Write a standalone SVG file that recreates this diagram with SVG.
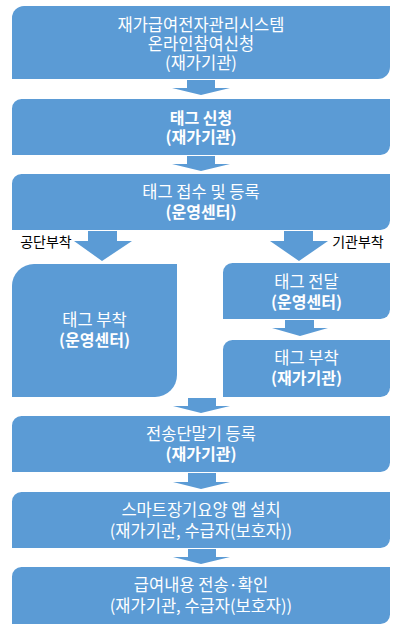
<svg xmlns="http://www.w3.org/2000/svg" width="411" height="636" viewBox="0 0 411 636">
<style>
.box{fill:#5B9BD5}
.arr{fill:#5B9BD5}
text{font-family:"Noto Sans CJK KR","Noto Sans",sans-serif;text-anchor:middle}
.t{fill:#fff;font-size:16.5px}
.b{font-weight:bold;font-size:16px}
.lbl{fill:#000;font-size:14px}
</style>
<rect width="411" height="636" fill="#fff"/>
<g id="connectors">
<polygon class="arr" points="187,80 215,80 215,88 230,88 201,95 172,88 187,88"/>
<polygon class="arr" points="187,156 215,156 215,164 230,164 201,171 172,164 187,164"/>
<polygon class="arr" points="88,231 117,231 117,241 132,241 102,261 74,241 88,241"/>
<polygon class="arr" points="284,231 313,231 313,241 328,241 299,261 270,241 284,241"/>
<polygon class="arr" points="285,320 314,320 314,328 328,328 300,336 272,328 285,328"/>
<polygon class="arr" points="188,398 216,398 216,406 230,406 201,413 173,406 188,406"/>
<polygon class="arr" points="188,473 216,473 216,482 230,482 201,489 173,482 188,482"/>
<polygon class="arr" points="188,549 216,549 216,557 230,557 201,564 173,557 188,557"/>
<text class="lbl" x="46" y="247">공단부착</text>
<text class="lbl" x="358" y="247">기관부착</text>
</g>
<g id="n1">
<path class="box" d="M24,6 H390 V67 A12,12 0 0 1 378,79 H12 V18 A12,12 0 0 1 24,6 Z"/>
<text class="t"><tspan x="201" y="30.5">재가급여전자관리시스템</tspan><tspan x="201" y="49.5">온라인참여신청</tspan><tspan x="201" y="68.5">(재가기관)</tspan></text>
</g>
<g id="n2">
<path class="box" d="M21.5,99 H390 V145.5 A9.5,9.5 0 0 1 380.5,155 H12 V108.5 A9.5,9.5 0 0 1 21.5,99 Z"/>
<text class="t b"><tspan x="201" y="124">태그 신청</tspan><tspan x="201" y="143">(재가기관)</tspan></text>
</g>
<g id="n3">
<path class="box" d="M21.5,174 H390 V220.5 A9.5,9.5 0 0 1 380.5,230 H12 V183.5 A9.5,9.5 0 0 1 21.5,174 Z"/>
<text class="t"><tspan x="201" y="198">태그 접수 및 등록</tspan><tspan class="b" x="201" y="218">(운영센터)</tspan></text>
</g>
<g id="n4">
<path class="box" d="M34,264 H177 V375 A22,22 0 0 1 155,397 H12 V286 A22,22 0 0 1 34,264 Z"/>
<text class="t"><tspan x="94.5" y="326">태그 부착</tspan><tspan class="b" x="94.5" y="346">(운영센터)</tspan></text>
</g>
<g id="n5">
<path class="box" d="M232.5,263 H390 V309.5 A9.5,9.5 0 0 1 380.5,319 H223 V272.5 A9.5,9.5 0 0 1 232.5,263 Z"/>
<text class="t"><tspan x="306.5" y="288">태그 전달</tspan><tspan class="b" x="306.5" y="308">(운영센터)</tspan></text>
</g>
<g id="n6">
<path class="box" d="M232.5,340 H390 V387.5 A9.5,9.5 0 0 1 380.5,397 H223 V349.5 A9.5,9.5 0 0 1 232.5,340 Z"/>
<text class="t"><tspan x="306.5" y="364">태그 부착</tspan><tspan class="b" x="306.5" y="384">(재가기관)</tspan></text>
</g>
<g id="n7">
<path class="box" d="M21.5,416 H390 V462.5 A9.5,9.5 0 0 1 380.5,472 H12 V425.5 A9.5,9.5 0 0 1 21.5,416 Z"/>
<text class="t"><tspan x="201" y="440">전송단말기 등록</tspan><tspan class="b" x="201" y="460">(재가기관)</tspan></text>
</g>
<g id="n8">
<path class="box" d="M21.5,492 H390 V538.5 A9.5,9.5 0 0 1 380.5,548 H12 V501.5 A9.5,9.5 0 0 1 21.5,492 Z"/>
<text class="t"><tspan x="201" y="516">스마트장기요양 앱 설치</tspan><tspan x="201" y="537">(재가기관, 수급자(보호자))</tspan></text>
</g>
<g id="n9">
<path class="box" d="M21.5,567 H390 V614.5 A9.5,9.5 0 0 1 380.5,624 H12 V576.5 A9.5,9.5 0 0 1 21.5,567 Z"/>
<text class="t"><tspan x="201" y="591">급여내용 전송·확인</tspan><tspan x="201" y="612">(재가기관, 수급자(보호자))</tspan></text>
</g>
</svg>
